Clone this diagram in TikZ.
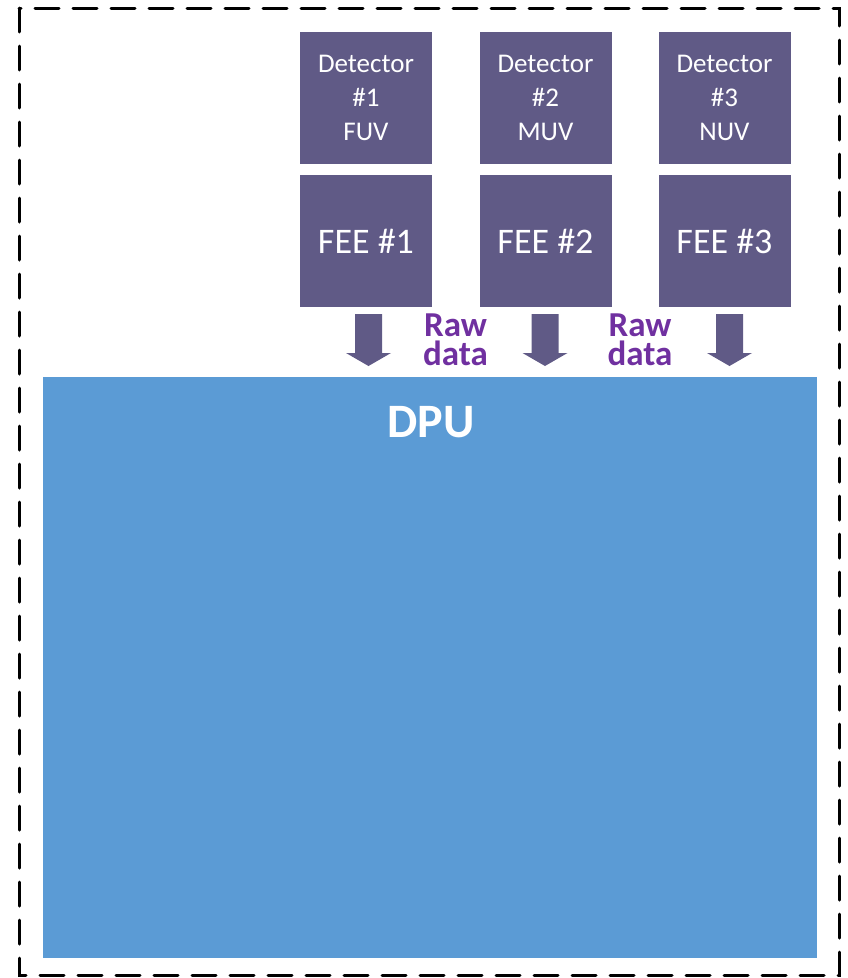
\documentclass[tikz,border=0pt]{standalone}
\usepackage{fontspec}
\setmainfont{Carlito}
\definecolor{boxpurple}{HTML}{605A86}
\definecolor{rawpurple}{HTML}{7030A0}
\definecolor{dpublue}{HTML}{5B9BD5}
\begin{document}
\begin{tikzpicture}[x=1pt,y=-1pt,
  detbox/.style={fill=boxpurple,draw=none,minimum width=132pt,minimum height=132pt,inner sep=0pt,text=white,align=center,font=\fontsize{27}{34}\selectfont},
  feebox/.style={fill=boxpurple,draw=none,minimum width=132pt,minimum height=132pt,inner sep=0pt,text=white,font=\fontsize{36}{42}\selectfont},
  rawtxt/.style={text=rawpurple,font=\bfseries\fontsize{35}{29}\selectfont,inner sep=0pt,align=center},
  blockarrow/.style={fill=boxpurple,draw=none}
]
\useasboundingbox (0,0) rectangle (848,978);
% outer dashed frame
\draw[line width=3pt,dash pattern=on 24pt off 14pt,line cap=round] (19,8) rectangle (839,975);
% DPU
\node[fill=dpublue,draw=none,minimum width=774pt,minimum height=581pt,inner sep=0pt,anchor=north west] (dpu) at (43,377) {};
\node[text=white,font=\bfseries\fontsize{48}{56}\selectfont,inner sep=0pt,anchor=base] (dputxt) at (431,437) {DPU};
% detectors
\node[detbox] (det1) at (366,98) {Detector\\\#1\\FUV};
\node[detbox] (det2) at (545.5,98) {Detector\\\#2\\MUV};
\node[detbox] (det3) at (724.5,98) {Detector\\\#3\\NUV};
% FEEs
\node[feebox] (fee1) at (366,241) {FEE \#1};
\node[feebox] (fee2) at (545.5,241) {FEE \#2};
\node[feebox] (fee3) at (724.5,241) {FEE \#3};
% block arrows
\foreach \cx in {368.5,545,729.5}{
  \fill[blockarrow] (\cx-13.5,314) -- (\cx+13.5,314) -- (\cx+13.5,353) -- (\cx+22.5,353)
     -- (\cx,366) -- (\cx-22.5,353) -- (\cx-13.5,353) -- cycle;
}
% raw data labels
\node[rawtxt] (raw1) at (455.5,339.3) {Raw\\data};
\node[rawtxt] (raw2) at (640,339.3) {Raw\\data};
\end{tikzpicture}
\end{document}
